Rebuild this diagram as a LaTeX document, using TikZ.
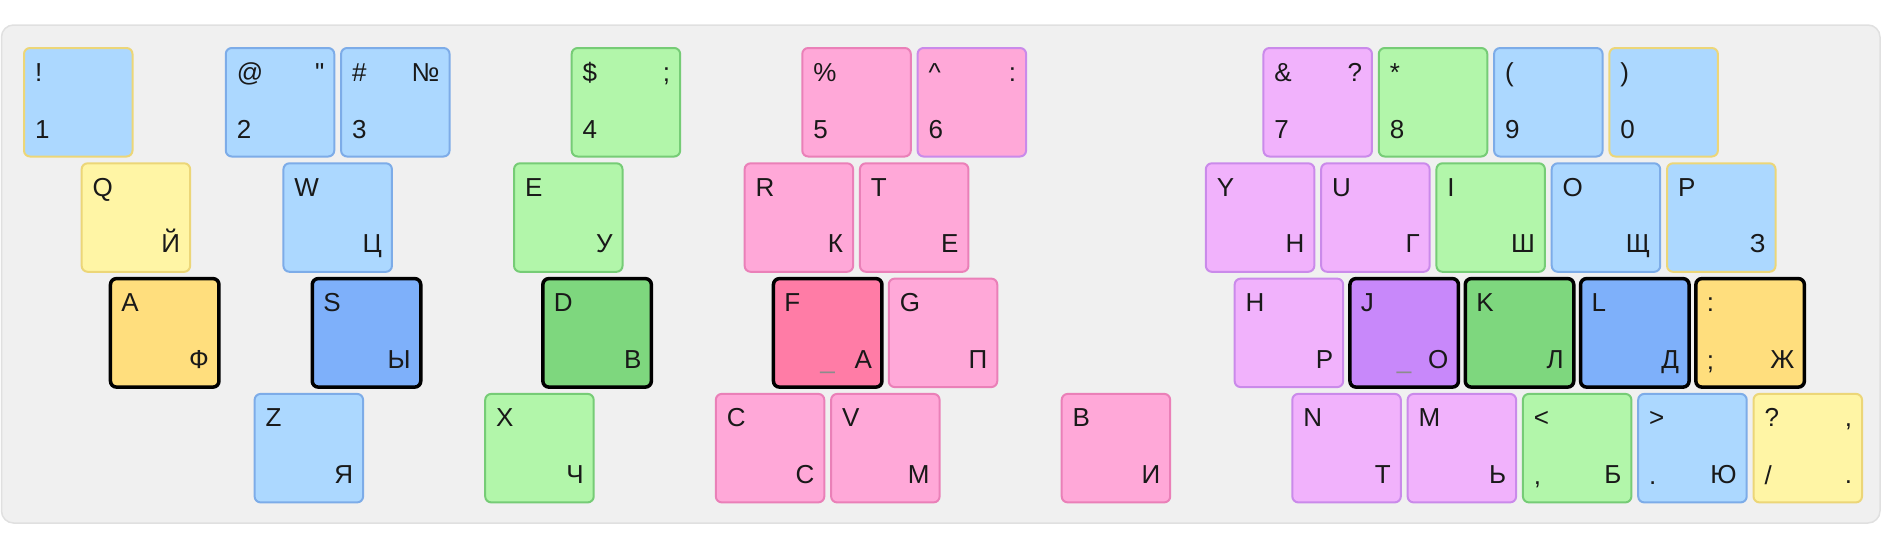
\documentclass[tikz,border=0pt]{standalone}
\usepackage{fontspec}
\setmainfont{Liberation Sans}
\newfontfamily\rawfont{Liberation Sans}[Ligatures=ResetAll]
\definecolor{txt}{RGB}{25,25,25}
\definecolor{panelF}{RGB}{240,240,240}
\definecolor{panelD}{RGB}{224,224,224}
\definecolor{bF}{RGB}{172,216,255}
\definecolor{bD}{RGB}{125,172,232}
\definecolor{yF}{RGB}{255,245,165}
\definecolor{yD}{RGB}{236,214,120}
\definecolor{gF}{RGB}{178,246,170}
\definecolor{gD}{RGB}{118,204,118}
\definecolor{pF}{RGB}{255,168,216}
\definecolor{pD}{RGB}{234,128,184}
\definecolor{vF}{RGB}{241,178,252}
\definecolor{vD}{RGB}{202,138,234}
\definecolor{hO}{RGB}{255,222,125}
\definecolor{hB}{RGB}{126,176,250}
\definecolor{hG}{RGB}{126,215,126}
\definecolor{hP}{RGB}{255,124,166}
\definecolor{hV}{RGB}{200,136,250}
\tikzset{
  keybox/.style={rectangle, rounded corners=6pt, minimum width=108.5pt, minimum height=108.5pt, inner sep=0pt, outer sep=0pt, line width=2pt},
  lbl/.style={inner sep=0pt, outer sep=0pt, font=\fontsize{26}{30}\selectfont, text=txt},
  kblue/.style={fill=bF, draw=bD},
  kyel/.style={fill=yF, draw=yD},
  kyb/.style={fill=bF, draw=yD},
  kgreen/.style={fill=gF, draw=gD},
  kpink/.style={fill=pF, draw=pD},
  kpv/.style={fill=pF, draw=vD},
  kviol/.style={fill=vF, draw=vD},
  khome/.style={draw=black, line width=3.5pt},
  panel/.style={fill=panelF, draw=panelD, line width=1.5pt, rounded corners=12pt}
}
\newcommand\mykey[4]{\node[keybox,#4] (#1) at ({78.25+#2*115.3},{102.25+#3*115.3}) {};}
\newcommand\KTL[2]{\node[lbl,anchor=base west,xshift=11pt,yshift=-33pt] at (#1.north west) {#2};}
\newcommand\KTR[2]{\node[lbl,anchor=base east,xshift=-10pt,yshift=-33pt] at (#1.north east) {#2};}
\newcommand\KBL[2]{\node[lbl,anchor=base west,xshift=11pt,yshift=18pt] at (#1.south west) {#2};}
\newcommand\KBR[2]{\node[lbl,anchor=base east,xshift=-10pt,yshift=19pt] at (#1.south east) {#2};}
\newcommand\KUS[1]{\node[lbl,anchor=base,text=black!45,yshift=19pt] at (#1.south) {\_};}
\begin{document}
\begin{tikzpicture}[x=1pt,y=-1pt]
\useasboundingbox (0,0) rectangle (1883,546);
\draw[panel] (1.5,25) rectangle (1880,523);
% number row
\mykey{k1}{0}{0}{kyb}\KTL{k1}{!}\KBL{k1}{1}
\mykey{k2}{1.75}{0}{kblue}\KTL{k2}{@}\KTR{k2}{{\rawfont"}}\KBL{k2}{2}
\mykey{k3}{2.75}{0}{kblue}\KTL{k3}{\#}\KTR{k3}{№}\KBL{k3}{3}
\mykey{k4}{4.75}{0}{kgreen}\KTL{k4}{\$}\KTR{k4}{;}\KBL{k4}{4}
\mykey{k5}{6.75}{0}{kpink}\KTL{k5}{\%}\KBL{k5}{5}
\mykey{k6}{7.75}{0}{kpv}\KTL{k6}{\textasciicircum}\KTR{k6}{:}\KBL{k6}{6}
\mykey{k7}{10.75}{0}{kviol}\KTL{k7}{\&}\KTR{k7}{?}\KBL{k7}{7}
\mykey{k8}{11.75}{0}{kgreen}\KTL{k8}{*}\KBL{k8}{8}
\mykey{k9}{12.75}{0}{kblue}\KTL{k9}{(}\KBL{k9}{9}
\mykey{k0}{13.75}{0}{kyb}\KTL{k0}{)}\KBL{k0}{0}
% top letter row
\mykey{kQ}{0.5}{1}{kyel}\KTL{kQ}{Q}\KBR{kQ}{Й}
\mykey{kW}{2.25}{1}{kblue}\KTL{kW}{W}\KBR{kW}{Ц}
\mykey{kE}{4.25}{1}{kgreen}\KTL{kE}{E}\KBR{kE}{У}
\mykey{kR}{6.25}{1}{kpink}\KTL{kR}{R}\KBR{kR}{К}
\mykey{kT}{7.25}{1}{kpink}\KTL{kT}{T}\KBR{kT}{Е}
\mykey{kY}{10.25}{1}{kviol}\KTL{kY}{Y}\KBR{kY}{Н}
\mykey{kU}{11.25}{1}{kviol}\KTL{kU}{U}\KBR{kU}{Г}
\mykey{kI}{12.25}{1}{kgreen}\KTL{kI}{I}\KBR{kI}{Ш}
\mykey{kO}{13.25}{1}{kblue}\KTL{kO}{O}\KBR{kO}{Щ}
\mykey{kP}{14.25}{1}{kyb}\KTL{kP}{P}\KBR{kP}{З}
% home row
\mykey{kA}{0.75}{2}{fill=hO,khome}\KTL{kA}{A}\KBR{kA}{Ф}
\mykey{kS}{2.5}{2}{fill=hB,khome}\KTL{kS}{S}\KBR{kS}{Ы}
\mykey{kD}{4.5}{2}{fill=hG,khome}\KTL{kD}{D}\KBR{kD}{В}
\mykey{kF}{6.5}{2}{fill=hP,khome}\KTL{kF}{F}\KBR{kF}{А}\KUS{kF}
\mykey{kG}{7.5}{2}{kpink}\KTL{kG}{G}\KBR{kG}{П}
\mykey{kH}{10.5}{2}{kviol}\KTL{kH}{H}\KBR{kH}{Р}
\mykey{kJ}{11.5}{2}{fill=hV,khome}\KTL{kJ}{J}\KBR{kJ}{О}\KUS{kJ}
\mykey{kK}{12.5}{2}{fill=hG,khome}\KTL{kK}{K}\KBR{kK}{Л}
\mykey{kL}{13.5}{2}{fill=hB,khome}\KTL{kL}{L}\KBR{kL}{Д}
\mykey{kSemi}{14.5}{2}{fill=hO,khome}\KTL{kSemi}{:}\KBL{kSemi}{;}\KBR{kSemi}{Ж}
% bottom row
\mykey{kZ}{2}{3}{kblue}\KTL{kZ}{Z}\KBR{kZ}{Я}
\mykey{kX}{4}{3}{kgreen}\KTL{kX}{X}\KBR{kX}{Ч}
\mykey{kC}{6}{3}{kpink}\KTL{kC}{C}\KBR{kC}{С}
\mykey{kV}{7}{3}{kpink}\KTL{kV}{V}\KBR{kV}{М}
\mykey{kB}{9}{3}{kpink}\KTL{kB}{B}\KBR{kB}{И}
\mykey{kN}{11}{3}{kviol}\KTL{kN}{N}\KBR{kN}{Т}
\mykey{kM}{12}{3}{kviol}\KTL{kM}{M}\KBR{kM}{Ь}
\mykey{kComma}{13}{3}{kgreen}\KTL{kComma}{<}\KBL{kComma}{,}\KBR{kComma}{Б}
\mykey{kDot}{14}{3}{kblue}\KTL{kDot}{>}\KBL{kDot}{.}\KBR{kDot}{Ю}
\mykey{kSlash}{15}{3}{kyel}\KTL{kSlash}{?}\KTR{kSlash}{,}\KBL{kSlash}{/}\KBR{kSlash}{.}
\end{tikzpicture}
\end{document}
